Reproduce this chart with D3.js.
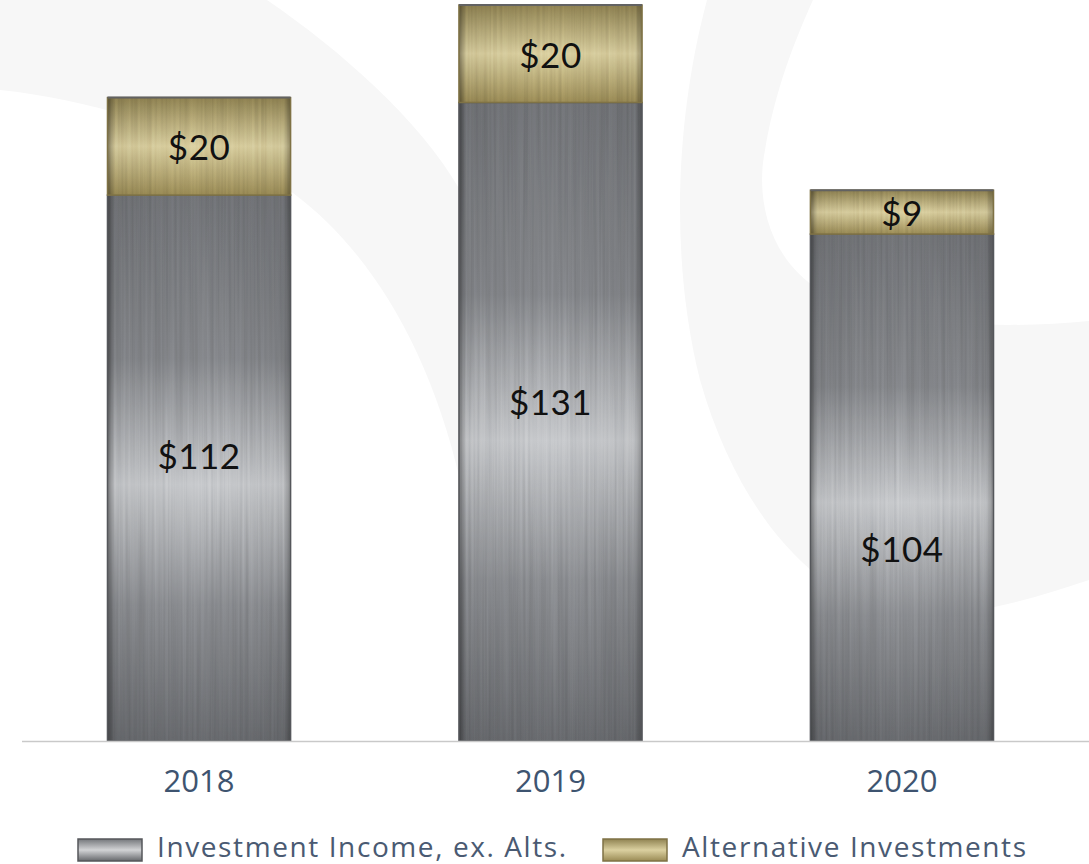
<!DOCTYPE html>
<html>
<head>
<meta charset="utf-8">
<script src="https://cdn.jsdelivr.net/npm/d3@7"></script>
<style>
  body { margin: 0; background: #fff; }
  svg { display: block; }
</style>
</head>
<body>
<div id="chart"></div>
<script>
const years = ["2018", "2019", "2020"];
const investmentIncome = [112, 131, 104];
const alternativeInvestments = [20, 20, 9];
const seriesNames = ["Investment Income, ex. Alts.", "Alternative Investments"];
// where the grey label sits inside its segment (fraction from the top)
const greyLabelPos = [0.477, 0.468, 0.62];

const width = 1089, height = 864;
const baseline = 741;

const svg = d3.select("#chart").append("svg")
  .attr("width", width)
  .attr("height", height);

const defs = svg.append("defs");

function vGradient(id, stops) {
  const g = defs.append("linearGradient").attr("id", id)
    .attr("x1", 0).attr("y1", 0).attr("x2", 0).attr("y2", 1);
  stops.forEach(s => g.append("stop").attr("offset", s[0]).attr("stop-color", s[1]));
}
vGradient("silver", [[0, "#727478"], [0.3, "#85878b"], [0.53, "#c8cacd"], [0.75, "#8c8e92"], [1, "#696b6f"]]);
vGradient("gold", [[0, "#908352"], [0.5, "#dbd0a0"], [1, "#9a8b55"]]);
vGradient("silverSwatch", [[0, "#75777b"], [0.5, "#d2d3d5"], [1, "#66686c"]]);

const edge = defs.append("linearGradient").attr("id", "edge")
  .attr("x1", 0).attr("y1", 0).attr("x2", 1).attr("y2", 0);
[[0, 0.4], [0.04, 0.05], [0.5, 0], [0.96, 0.05], [1, 0.3]].forEach(s =>
  edge.append("stop").attr("offset", s[0]).attr("stop-color", "#000").attr("stop-opacity", s[1]));

// brushed metal streaks
const brush = defs.append("filter").attr("id", "brush")
  .attr("x", 0).attr("y", 0).attr("width", 1).attr("height", 1);
brush.append("feTurbulence").attr("type", "fractalNoise")
  .attr("baseFrequency", "0.35 0.004").attr("numOctaves", 2).attr("seed", 3).attr("result", "noise");
brush.append("feColorMatrix").attr("in", "noise").attr("type", "matrix")
  .attr("values", "1 0 0 0 0  1 0 0 0 0  1 0 0 0 0  0 0 0 0 0.2")
  .attr("result", "streaks");
brush.append("feComposite").attr("in", "streaks").attr("in2", "SourceGraphic").attr("operator", "in").attr("result", "s2");
brush.append("feBlend").attr("in", "s2").attr("in2", "SourceGraphic").attr("mode", "overlay");

// faint background swirls
const bg = svg.append("g").attr("fill", "#f7f7f7");
bg.append("path").attr("d", "M0,0 L267,0 C340,50 420,120 460,190 L460,480 C430,350 370,250 293,193 C220,140 100,100 0,90 Z");
bg.append("path").attr("d", "M707,0 C675,120 670,260 700,380 C740,520 820,600 900,615 C960,620 1030,600 1089,580 L1089,321 C1000,330 880,325 820,290 C770,260 755,200 765,150 C775,90 795,40 813,0 Z");

const x = d3.scaleBand().domain(years).range([24, 1077]).paddingInner(0.479).paddingOuter(0.2375);
const y = d3.scaleLinear().domain([0, 151]).range([baseline, 5]);

const data = years.map((yr, i) => ({
  year: yr,
  base: investmentIncome[i],
  alt: alternativeInvestments[i],
  pos: greyLabelPos[i]
}));

const bars = svg.append("g").selectAll("g").data(data).join("g");

// silver segment
bars.append("rect")
  .attr("x", d => x(d.year))
  .attr("y", d => y(d.base))
  .attr("width", x.bandwidth())
  .attr("height", d => y(0) - y(d.base))
  .attr("fill", "url(#silver)")
  .attr("filter", "url(#brush)");
bars.append("rect")
  .attr("x", d => x(d.year))
  .attr("y", d => y(d.base))
  .attr("width", x.bandwidth())
  .attr("height", d => y(0) - y(d.base))
  .attr("fill", "url(#edge)")
  .attr("stroke", "#55575b")
  .attr("stroke-width", 1.5);

// gold segment
bars.append("rect")
  .attr("x", d => x(d.year))
  .attr("y", d => y(d.base + d.alt))
  .attr("width", x.bandwidth())
  .attr("height", d => y(d.base) - y(d.base + d.alt))
  .attr("fill", "url(#gold)")
  .attr("filter", "url(#brush)");
bars.append("rect")
  .attr("x", d => x(d.year))
  .attr("y", d => y(d.base + d.alt))
  .attr("width", x.bandwidth())
  .attr("height", d => y(d.base) - y(d.base + d.alt))
  .attr("fill", "url(#edge)")
  .attr("stroke", "#7f7245")
  .attr("stroke-width", 1.5);

// top edge of the whole bar
bars.append("line")
  .attr("x1", d => x(d.year))
  .attr("x2", d => x(d.year) + x.bandwidth())
  .attr("y1", d => y(d.base + d.alt))
  .attr("y2", d => y(d.base + d.alt))
  .attr("stroke", "#626262")
  .attr("stroke-width", 2);

// value labels
const labelFont = "Lato, 'Noto Sans', sans-serif";
bars.append("text")
  .attr("x", d => x(d.year) + x.bandwidth() / 2)
  .attr("y", d => (y(d.base) + y(d.base + d.alt)) / 2)
  .attr("text-anchor", "middle")
  .attr("dominant-baseline", "central")
  .attr("font-family", labelFont)
  .attr("font-size", 35)
  .attr("letter-spacing", 0.5)
  .attr("fill", "#111")
  .text(d => "$" + d.alt);
bars.append("text")
  .attr("x", d => x(d.year) + x.bandwidth() / 2)
  .attr("y", d => y(d.base) + (y(0) - y(d.base)) * d.pos)
  .attr("text-anchor", "middle")
  .attr("dominant-baseline", "central")
  .attr("font-family", labelFont)
  .attr("font-size", 35)
  .attr("letter-spacing", 0.5)
  .attr("fill", "#111")
  .text(d => "$" + d.base);

// baseline axis
const axis = svg.append("g").attr("transform", `translate(0,${baseline})`)
  .call(d3.axisBottom(x).tickSize(0).tickPadding(29));
axis.select(".domain").attr("d", `M22,0.5H${width}`).attr("stroke", "#c9c9c9").attr("stroke-width", 1.5);
axis.selectAll("text")
  .attr("font-family", "'Open Sans', sans-serif")
  .attr("font-size", 31)
  .attr("fill", "#3e5470");

// legend
const legendItems = [
  { name: seriesNames[0], fill: "url(#silverSwatch)", stroke: "#55575b", x: 78 },
  { name: seriesNames[1], fill: "url(#gold)", stroke: "#7f7245", x: 603 }
];
const legend = svg.append("g").selectAll("g").data(legendItems).join("g")
  .attr("transform", d => `translate(${d.x},839)`);
legend.append("rect")
  .attr("width", 64).attr("height", 22)
  .attr("fill", d => d.fill)
  .attr("stroke", d => d.stroke)
  .attr("stroke-width", 1.5);
legend.append("text")
  .attr("x", 79).attr("y", 18)
  .attr("font-family", "'Open Sans', sans-serif")
  .attr("font-size", 28)
  .attr("letter-spacing", 1.6)
  .attr("fill", "#4a5a72")
  .text(d => d.name);
</script>
</body>
</html>
